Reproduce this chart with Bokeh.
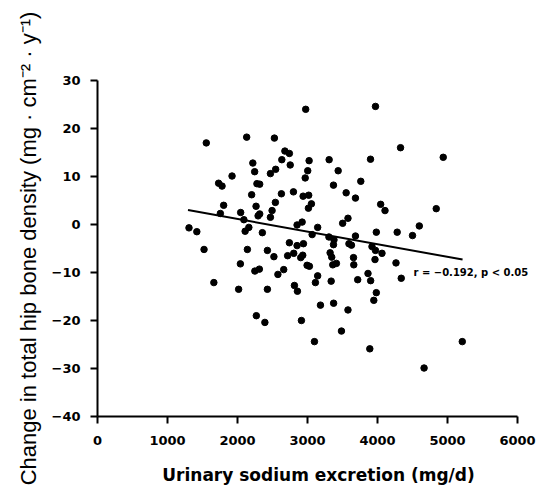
from bokeh.plotting import figure
from bokeh.models import Range1d, FixedTicker, Label
from bokeh.embed import file_html
from bokeh.resources import INLINE

# Urinary sodium excretion (mg/d)
sodium = [1554, 2131, 2527, 2974, 3971, 2677, 2741, 2633, 2753, 2219,
          2245, 2545, 2470, 1922, 1730, 1779, 2277, 2317, 2202, 2627,
          1802, 2265, 2541, 1755, 2045, 2317, 2294, 2494, 2470, 2091,
          1307, 1419, 2162, 2109, 2355, 3023, 3309, 3900, 3438, 3003,
          2967, 3371, 3761, 2799, 3552, 2937, 3017, 3685, 3056, 3013,
          4045, 4107, 3578, 3502, 2923, 2851, 3145, 3685, 3983, 4329,
          4939, 4839, 4597, 4281, 4500, 1522, 2141, 2427, 2520, 2741,
          2716, 2041, 2248, 2312, 2577, 2660, 1662, 2016, 2427, 2269,
          2391, 3066, 2851, 2942, 2803, 2903, 2932, 2994, 3027, 3306,
          3378, 3371, 3592, 3628, 3921, 3971, 4064, 3964, 4264, 3323,
          3346, 3361, 3413, 3657, 3661, 3864, 3902, 3717, 3145, 3113,
          3338, 2813, 2856, 3983, 3947, 3185, 3373, 3578, 2913, 3485,
          3099, 3890, 4339, 5211, 4665]
# Change in total hip bone density (mg/cm2/y)
density_change = [17.0, 18.2, 18.0, 24.0, 24.6, 15.3, 14.8, 13.5, 12.4, 12.8,
                  11.0, 11.5, 10.6, 10.1, 8.6, 8.0, 8.5, 8.4, 6.2, 6.4,
                  4.0, 3.8, 4.6, 2.3, 2.5, 2.2, 1.8, 2.9, 1.5, 1.0,
                  -0.7, -1.5, -0.6, -1.4, -1.7, 13.3, 13.5, 13.6, 11.2, 11.2,
                  9.7, 8.2, 9.0, 6.8, 6.6, 5.9, 6.1, 5.5, 4.3, 3.4,
                  4.2, 2.9, 1.3, 0.25, 0.5, -0.1, -0.6, -2.4, -1.6, 16.0,
                  14.0, 3.3, -0.3, -1.6, -2.3, -5.2, -5.2, -5.4, -6.7, -3.8,
                  -6.5, -8.2, -9.7, -9.3, -10.4, -9.4, -12.1, -13.5, -13.5, -19.0,
                  -20.4, -2.1, -4.4, -4.0, -6.0, -6.9, -6.4, -8.5, -8.7, -2.6,
                  -3.2, -4.2, -4.0, -4.3, -4.6, -5.4, -6.0, -7.3, -8.0, -5.9,
                  -6.8, -8.4, -8.1, -6.9, -8.4, -10.2, -11.7, -11.5, -10.7, -12.1,
                  -11.8, -12.7, -13.9, -14.2, -15.8, -16.8, -16.4, -17.8, -20.0, -22.2,
                  -24.4, -25.9, -11.2, -24.4, -29.9]

# Regression line end points
fit_sodium = [1293, 5215]
fit_change = [3.0, -7.3]

x_ticks = [0, 1000, 2000, 3000, 4000, 5000, 6000]
y_ticks = [-40, -30, -20, -10, 0, 10, 20, 30]
y_tick_labels = ["\u221240", "\u221230", "\u221220", "\u221210", "0", "10", "20", "30"]

annotation_text = "r = \u22120.192, p < 0.05"
annotation_x = 4514
annotation_y = -9.9

# frame extends past 6000 (axis line bounded to 0..6000) so the annotation has room
p = figure(width=539, height=488, output_backend="svg", toolbar_location=None,
           x_range=Range1d(0, 6314), y_range=Range1d(-40, 30),
           min_border_left=97, min_border_right=0, min_border_top=80,
           min_border_bottom=72)
p.outline_line_color = None
p.grid.visible = False
p.background_fill_color = "white"
p.border_fill_color = "white"

p.scatter(sodium, density_change, size=6.5, color="black", line_color="black")
p.line(fit_sodium, fit_change, line_width=2, color="black")
p.add_layout(Label(x=annotation_x, y=annotation_y, text=annotation_text,
                   text_font="DejaVu Sans", text_font_style="bold",
                   text_font_size="10px", text_baseline="middle",
                   text_align="left", text_color="black"))

for ax in (p.xaxis[0], p.yaxis[0]):
    ax.axis_line_width = 2
    ax.axis_line_color = "black"
    ax.major_tick_line_width = 2
    ax.major_tick_line_color = "black"
    ax.major_tick_out = 7
    ax.major_tick_in = 0
    ax.minor_tick_line_color = None
    ax.major_label_text_font = "DejaVu Sans"
    ax.major_label_text_font_style = "bold"
    ax.major_label_text_font_size = "13px"
    ax.major_label_text_color = "black"
    ax.axis_label_text_color = "black"

p.xaxis.bounds = (x_ticks[0], x_ticks[-1])
p.xaxis.ticker = FixedTicker(ticks=x_ticks)
p.yaxis.ticker = FixedTicker(ticks=y_ticks)
p.yaxis.major_label_overrides = {t: l for t, l in zip(y_ticks, y_tick_labels)}
p.xaxis.major_label_standoff = 12
p.yaxis.major_label_standoff = 10

p.xaxis.axis_label = "Urinary sodium excretion (mg/d)"
p.xaxis.axis_label_text_font = "DejaVu Sans"
p.xaxis.axis_label_text_font_style = "bold"
p.xaxis.axis_label_text_font_size = "17px"
p.xaxis.axis_label_standoff = 17

p.yaxis.axis_label = "Change in total hip bone density (mg \u00b7 cm\u207b\u00b2 \u00b7 y\u207b\u00b9)"
p.yaxis.axis_label_text_font = "Liberation Sans"
p.yaxis.axis_label_text_font_style = "normal"
p.yaxis.axis_label_text_font_size = "22px"
p.yaxis.axis_label_standoff = 8

open("out.html", "w").write(file_html(p, INLINE))
